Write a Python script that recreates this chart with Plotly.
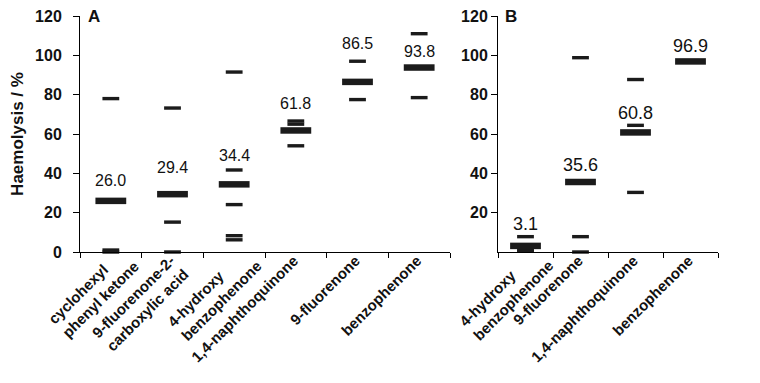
import plotly.graph_objects as go

# ---------------- data ----------------
cats_a = ["cyclohexyl<br>phenyl ketone", "9-fluorenone-2-<br>carboxylic acid",
          "4-hydroxy<br>benzophenone", "1,4-naphthoquinone", "9-fluorenone", "benzophenone"]
means_a = [26.0, 29.4, 34.4, 61.8, 86.5, 93.8]
reps_a = [
    [78.0, 1.0, 0.0],
    [73.2, 15.2, 0.0],
    [91.5, 41.7, 24.1, 8.3, 6.2],
    [66.6, 65.0, 54.0],
    [97.0, 86.0, 77.5],
    [111.0, 93.5, 78.5],
]
label_y_a = [36.6, 43.0, 49.3, 75.6, 105.8, 101.8]

cats_b = ["4-hydroxy<br>benzophenone", "9-fluorenone", "1,4-naphthoquinone", "benzophenone"]
means_b = [3.1, 35.6, 60.8, 96.9]
reps_b = [
    [7.8, 1.0, 0.5],
    [98.8, 7.8, 0.0],
    [87.7, 64.4, 30.3],
    [97.3, 96.5, 96.9],
]
label_y_b = [14.4, 44.3, 70.7, 104.6]

yticks_a = [0, 20, 40, 60, 80, 100, 120]
yticks_b = [20, 40, 60, 80, 100, 120]

# ---------------- figure ----------------
FONT = "Liberation Sans, Arial, sans-serif"
INK = "#1b1b1b"
TXT = "#111111"
fig = go.Figure()


def add_panel(cats, means, reps, xa, ya):
    rx, ry = [], []
    for c, vals in zip(cats, reps):
        for v in vals:
            rx.append(c)
            ry.append(v)
    fig.add_trace(go.Scatter(
        x=rx, y=ry, mode="markers", xaxis=xa, yaxis=ya, cliponaxis=False,
        marker=dict(symbol="line-ew", size=12, line=dict(width=3.4, color=INK)),
        showlegend=False, hoverinfo="skip"))
    fig.add_trace(go.Scatter(
        x=cats, y=means, mode="markers", xaxis=xa, yaxis=ya, cliponaxis=False,
        marker=dict(symbol="line-ew", size=22, line=dict(width=6.5, color=INK)),
        showlegend=False, hoverinfo="skip"))


add_panel(cats_a, means_a, reps_a, "x", "y")
add_panel(cats_b, means_b, reps_b, "x2", "y2")

annotations = []
for c, m, ly in zip(cats_a, means_a, label_y_a):
    annotations.append(dict(x=c, y=ly, xref="x", yref="y", text=f"{m:.1f}",
                            showarrow=False, font=dict(size=16, color=TXT, family=FONT)))
for c, m, ly in zip(cats_b, means_b, label_y_b):
    annotations.append(dict(x=c, y=ly, xref="x2", yref="y2", text=f"{m:.1f}",
                            showarrow=False, font=dict(size=18, color=TXT, family=FONT)))
annotations.append(dict(x=0.016, y=1, xref="x domain", yref="y domain", text="<b>A</b>",
                        xanchor="left", yanchor="middle", showarrow=False,
                        font=dict(size=17, color=TXT, family=FONT)))
annotations.append(dict(x=0.022, y=1, xref="x2 domain", yref="y2 domain", text="<b>B</b>",
                        xanchor="left", yanchor="middle", showarrow=False,
                        font=dict(size=17, color=TXT, family=FONT)))

TICKFONT = dict(size=15, color=TXT, family=FONT, weight="bold")


def split_labels(cats, xa, ya):
    """Two-line labels whose second line is longer are drawn left-aligned
    (as in the original); the rest stay ordinary tick labels."""
    ticktext = []
    for c in cats:
        parts = c.split("<br>")
        if len(parts) == 2 and len(parts[1]) > len(parts[0]) + 2:
            ticktext.append("")
            annotations.append(dict(
                x=c, y=0, xref=xa, yref=ya, text=c, textangle=-45, align="left",
                xanchor="right", yanchor="top", xshift=33, yshift=10, borderpad=0,
                showarrow=False, font=TICKFONT))
        else:
            ticktext.append(c)
    return ticktext


ticktext_a = split_labels(cats_a, "x", "y")
ticktext_b = split_labels(cats_b, "x2", "y2")

xcommon = dict(type="category", showline=True, linecolor="#000", linewidth=1,
               ticks="outside", tickson="boundaries", ticklen=5, tickcolor="#000",
               tickangle=-45, showgrid=False, zeroline=False, automargin=False,
               ticklabelstandoff=-7, ticklabelshift=-2, ticklabeloverflow="allow",
               tickfont=TICKFONT)
ycommon = dict(range=[0, 120], showline=True, linecolor="#000", linewidth=1,
               ticks="outside", ticklen=6, tickcolor="#000", showgrid=False,
               zeroline=False, automargin=False, ticklabeloverflow="allow",
               tickfont=dict(size=16, color=TXT, family=FONT, weight="bold"))

# the page body adds an 8px offset, so margins are shifted to compensate
fig.update_layout(
    width=760, height=383,
    margin=dict(l=72, r=50, t=8, b=139),
    paper_bgcolor="white", plot_bgcolor="white",
    font=dict(family=FONT, color=TXT),
    xaxis=dict(domain=[0, 370 / 638], range=[-0.5, 5.5], anchor="y",
               tickvals=cats_a, ticktext=ticktext_a, **xcommon),
    xaxis2=dict(domain=[418 / 638, 1], range=[-0.5, 3.5], anchor="y2",
                tickvals=cats_b, ticktext=ticktext_b, **xcommon),
    yaxis=dict(anchor="x", tickvals=yticks_a, ticklabelstandoff=8,
               title=dict(text="Haemolysis / %", standoff=10,
                          font=dict(size=17, color=TXT, family=FONT, weight="bold")),
               **ycommon),
    yaxis2=dict(anchor="x2", tickvals=yticks_b, ticklabelstandoff=0, **ycommon),
    annotations=annotations,
)

fig.write_html("out.html")
